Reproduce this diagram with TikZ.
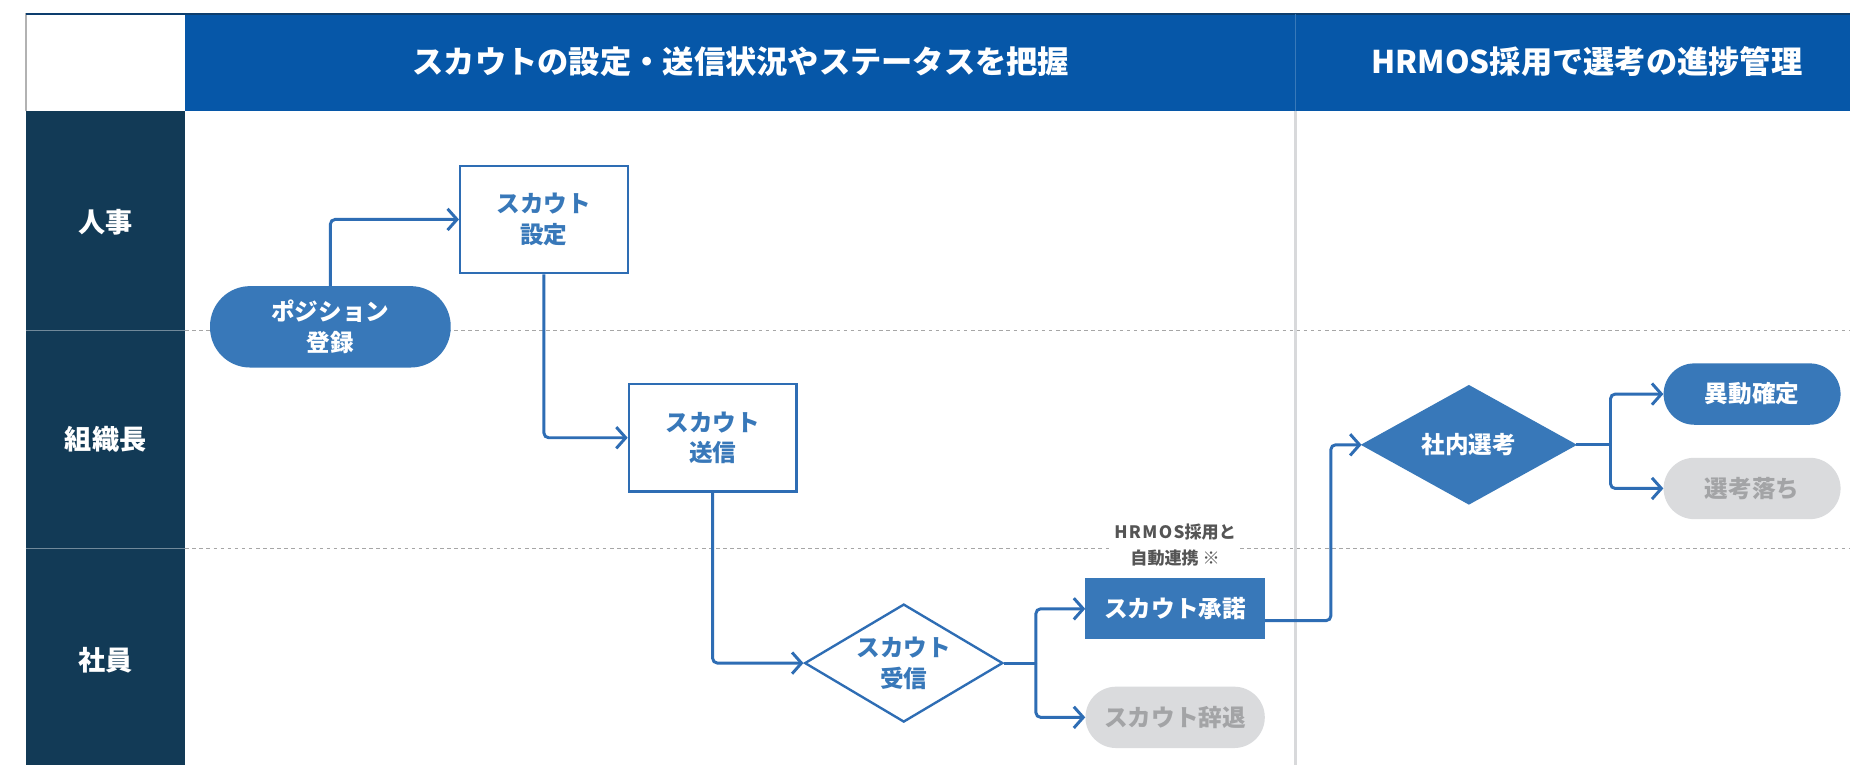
\documentclass[tikz,border=0pt]{standalone}
\usepackage{fontspec}
\setmainfont{Noto Sans CJK JP}
\usepackage{xcolor}
\usepackage{tikz}
\usetikzlibrary{arrows.meta,shapes.geometric}
\definecolor{hdrblue}{HTML}{0657A8}
\definecolor{hdrnavy}{HTML}{0D3E6E}
\definecolor{lanenavy}{HTML}{123A56}
\definecolor{nodeblue}{HTML}{3878B9}
\definecolor{lineblue}{HTML}{2E6DB4}
\definecolor{offgray}{HTML}{DADBDD}
\definecolor{offtext}{HTML}{A3A4A6}
\definecolor{rulegray}{HTML}{D8D9DB}
\definecolor{notegray}{HTML}{555555}

\begin{document}
\begin{tikzpicture}[
  x=1pt,y=-1pt,
  every node/.style={font=\bfseries\fontsize{20}{26}\selectfont},
  hdr/.style={text=white,font=\bfseries\fontsize{26.5}{30}\selectfont},
  lanelbl/.style={text=white,font=\bfseries\fontsize{23}{28}\selectfont},
  box/.style={draw=lineblue,line width=2pt,fill=white,text=nodeblue,minimum width=142pt,minimum height=91pt,align=center,inner sep=0pt},
  pill/.style={fill=nodeblue,text=white,minimum width=150pt,minimum height=52pt,rounded corners=26pt,align=center,inner sep=0pt},
  offpill/.style={pill,fill=offgray,text=offtext},
  dec/.style={diamond,draw=lineblue,line width=2pt,fill=white,text=nodeblue,align=center,inner sep=0pt,aspect=1.68,minimum width=168pt,minimum height=100pt},
  lane/.style={gray!70,line width=1.2pt,dash pattern=on 3pt off 3pt},
  arr/.style={draw=lineblue,line width=2.5pt,rounded corners=4pt,-{Straight Barb[length=8pt,width=18pt,line width=2.5pt]}},
  link/.style={draw=lineblue,line width=2.5pt}
]
\useasboundingbox (0,0) rectangle (1568,648);
% header and lanes
\fill[white] (0,0) rectangle (1568,648);
\draw[gray!60,line width=1.5pt] (22,94) |- (157,12);
\fill[hdrblue] (157,12) rectangle (1568,94);
\draw[hdrnavy,line width=2pt] (22,12) -- (1568,12);
\fill[lanenavy] (22,94) rectangle (157,648);
\draw[lanenavy!60!white,line width=1pt] (22,280) -- (157,280) (22,465) -- (157,465);
\draw[hdrblue!80!white,line width=1.5pt] (1098,12) -- (1098,94);
\draw[rulegray,line width=2pt] (1098,94) -- (1098,648);
\draw[lane] (157,280) -- (1568,280);
\draw[lane] (157,465) -- (1568,465);
\node[hdr] (hdrscout) at (628,52) {スカウトの設定・送信状況やステータスを把握};
\node[hdr] (hdrhrmos) at (1345,52) {HRMOS採用で選考の進捗管理};
\node[lanelbl] (hr) at (89.5,188) {人事};
\node[lanelbl] (mgr) at (89.5,372) {組織長};
\node[lanelbl] (staff) at (89.5,560) {社員};
% flow
\node[pill,minimum width=204pt,minimum height=69pt,rounded corners=34pt] (pos) at (280,277) {ポジション\\登録};
\node[box] (setup) at (461,186) {スカウト\\設定};
\node[box] (send) at (604,371) {スカウト\\送信};
\node[dec] (recv) at (766,562) {スカウト\\受信};
\node[pill,rounded corners=0pt,minimum width=152pt] (accept) at (996,516) {スカウト承諾};
\node[offpill,minimum width=152pt] (decline) at (996,608) {スカウト辞退};
\node[fill=white,text=notegray,align=center,inner sep=3pt,font=\bfseries\fontsize{14.5}{22}\selectfont] (sync) at (996,462) {{\addfontfeature{LetterSpace=8}HRMOS}採用と\\自動連携\ ※};
\node[dec,fill=nodeblue,draw=nodeblue,text=white,minimum width=180pt,aspect=1.8] (sel) at (1245,377) {社内選考};
\node[pill] (move) at (1485,334) {異動確定};
\node[offpill] (fail) at (1485,414) {選考落ち};
\coordinate (forkA) at (878,562);
\coordinate (joinA) at (1128,526);
\coordinate (forkB) at (1365,377);
\draw[arr] (pos.north) |- (setup.west);
\draw[arr] (setup.south) |- (send.west);
\draw[arr] (send.south) |- (recv.west);
\draw[link] (recv.east) -- (forkA);
\draw[arr] (forkA) |- (accept.west);
\draw[arr] (forkA) |- (decline.west);
\draw[arr] ([yshift=-10pt]accept.east) -- (joinA) |- (sel.west);
\draw[link] (sel.east) -- (forkB);
\draw[arr] (forkB) |- (move.west);
\draw[arr] (forkB) |- (fail.west);
\end{tikzpicture}
\end{document}
